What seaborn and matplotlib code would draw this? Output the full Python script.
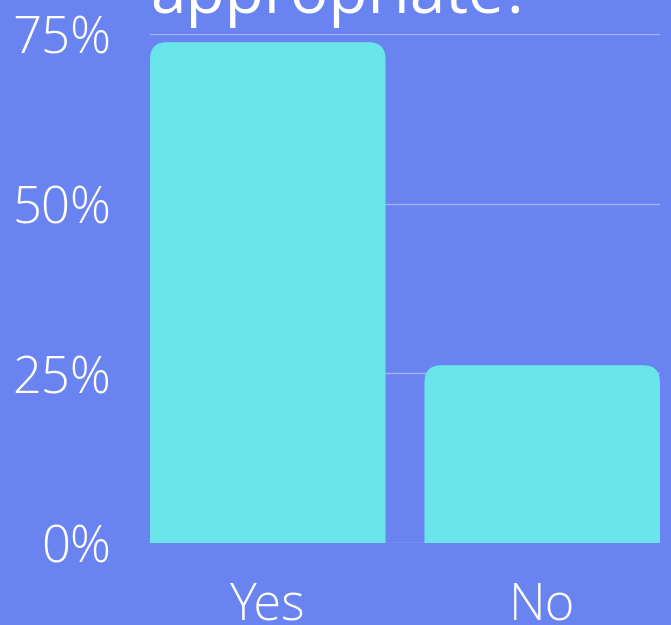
import numpy as np
import pandas as pd
import matplotlib
matplotlib.use("Agg")
import matplotlib.pyplot as plt
import seaborn as sns
from matplotlib.patches import FancyBboxPatch

# 数据
answers = ["Yes", "No"]
shares = [73.8, 26.2]
y_ticks = [0, 25, 50, 75]
y_tick_labels = ["0%", "25%", "50%", "75%"]
title_tail = "appropriate?"

bg = "#6983f0"
bar_col = "#69e4e8"

sns.set_style("white")
plt.rcParams['font.family'] = ['Open Sans', 'DejaVu Sans']

df = pd.DataFrame({"answer": answers, "share": shares})

fig = plt.figure(figsize=(6.71, 6.25), dpi=100, facecolor=bg)
ax = fig.add_axes([150/671, 1 - 543/625, 510/671, 509/625])
ax.set_facecolor(bg)

sns.barplot(x="answer", y="share", data=df, color=bar_col, width=0.858,
            saturation=1, ax=ax, zorder=3)

ax.set_xlim(-0.429, 1.429)
ax.set_ylim(0, 75)

# 圆角柱子：用 FancyBboxPatch 替换原始矩形
x_per_px = (1.429 + 0.429) / 510
y_per_px = 75 / 509
aspect = y_per_px / x_per_px
r = 17 * x_per_px
for p in list(ax.patches):
    x0, w, h = p.get_x(), p.get_width(), p.get_height()
    p.set_visible(False)
    ext = 5.0
    box = FancyBboxPatch((x0, -ext), w, h + ext,
                         boxstyle=f"round,pad=0,rounding_size={r}",
                         mutation_aspect=aspect,
                         facecolor=bar_col, edgecolor="none", zorder=3)
    ax.add_patch(box)

# 网格线
for t in y_ticks:
    ax.axhline(t, color="#a3b3f6", lw=1, zorder=1)

ax.set_yticks(y_ticks)
ax.set_yticklabels(y_tick_labels)
ax.set_xlabel("")
ax.set_ylabel("")
for s in ax.spines.values():
    s.set_visible(False)
ax.tick_params(axis="both", length=0, colors="white", labelsize=36.5)
ax.tick_params(axis="y", pad=28)
ax.tick_params(axis="x", pad=27)
for lab in ax.get_xticklabels() + ax.get_yticklabels():
    lab.set_fontweight("light")

fig.text(150/671, 1 - 13/625, title_tail, color="white", fontsize=46,
         va="baseline", ha="left")

fig.savefig("out.png", dpi=100, facecolor=bg)
